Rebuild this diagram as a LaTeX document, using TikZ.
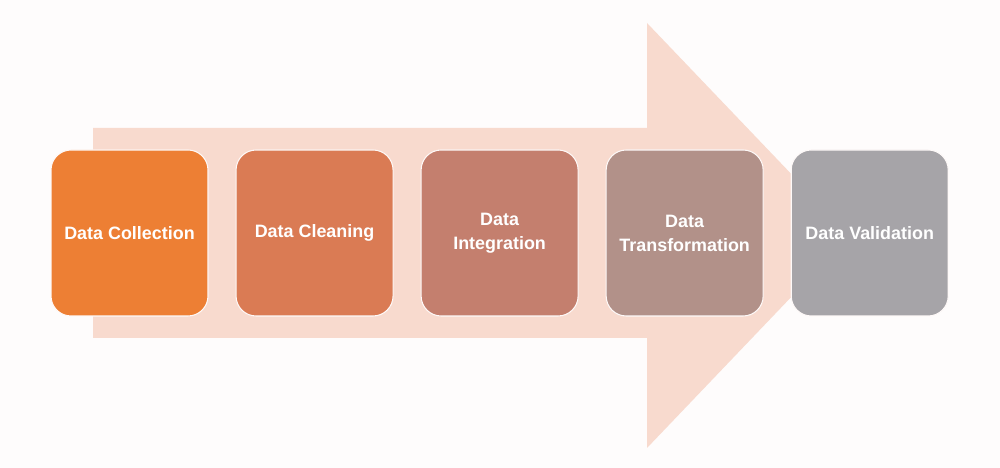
\documentclass[tikz,border=0pt]{standalone}
\usepackage{fontspec}
\setmainfont{Liberation Sans}
\usetikzlibrary{calc, positioning}

\definecolor{bgwhite}{RGB}{254,252,252}
\definecolor{arrowpink}{RGB}{248,218,206}
\definecolor{stepA}{RGB}{237,127,52}
\definecolor{stepB}{RGB}{218,123,84}
\definecolor{stepC}{RGB}{196,127,110}
\definecolor{stepD}{RGB}{178,145,137}
\definecolor{stepE}{RGB}{166,164,168}

\begin{document}
\begin{tikzpicture}[
  stagebox/.style={draw=white!85!arrowpink, line width=0.6pt, rounded corners=0.4cm,
    minimum width=3.14cm, minimum height=3.32cm, align=center,
    text=white, font=\bfseries\fontsize{10.2}{13.6}\selectfont}
]
\fill[bgwhite] (0,0) rectangle (20,9.36);
\useasboundingbox (0,0) rectangle (20,9.36);

% big arrow behind the stages
\coordinate (tail) at (1.86,4.65);
\coordinate (tip) at (17.0,4.65);
\fill[arrowpink] (1.86,2.6) -- (12.94,2.6) -- (12.94,0.4) -- (tip)
  -- (12.94,8.9) -- (12.94,6.8) -- (1.86,6.8) -- cycle;

\node[stagebox, fill=stepA] (collect) at (2.59,4.7) {Data Collection};
\node[stagebox, fill=stepB, right=0.54cm of collect] (clean) {Data Cleaning};
\node[stagebox, fill=stepC, right=0.54cm of clean] (integrate) {Data\\Integration};
\node[stagebox, fill=stepD, right=0.54cm of integrate] (transform) {Data\\Transformation};
\node[stagebox, fill=stepE, right=0.54cm of transform] (validate) {Data Validation};
\end{tikzpicture}
\end{document}
